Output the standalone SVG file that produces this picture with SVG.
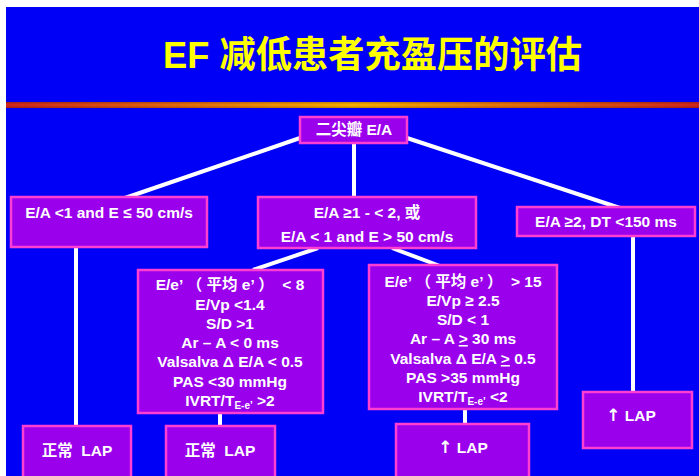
<svg xmlns="http://www.w3.org/2000/svg" width="699" height="476" viewBox="0 0 699 476">
<defs>
<linearGradient id="stripe" x1="0" y1="0" x2="1" y2="0">
<stop offset="0" stop-color="#D8261C"/>
<stop offset="0.5" stop-color="#FFB400"/>
<stop offset="1" stop-color="#D8261C"/>
</linearGradient>
<linearGradient id="stripeV" x1="0" y1="0" x2="0" y2="1">
<stop offset="0" stop-color="#000000" stop-opacity="0.25"/>
<stop offset="0.5" stop-color="#000000" stop-opacity="0"/>
<stop offset="1" stop-color="#000000" stop-opacity="0.25"/>
</linearGradient>
</defs>
<style>
.box{fill:#9A00EC;stroke:#FF3FD2;stroke-width:2.5}
.t{fill:#FFFFFF;font-family:"Liberation Sans","Noto Sans CJK SC",Arial,sans-serif;font-weight:bold;font-size:15.5px;text-anchor:middle}
.title{fill:#FFFF00;font-family:"Liberation Sans","Noto Sans CJK SC",sans-serif;font-weight:bold;font-size:37px}
.c{stroke:#FFFFFF;stroke-width:4;fill:none}
.sub{font-size:10px}
.arr{font-family:"DejaVu Sans",sans-serif;font-size:17px}
</style>
<rect x="0" y="0" width="699" height="476" fill="#FFFFFF"/>
<rect x="6" y="7" width="693" height="469" fill="#0000F6"/>
<rect x="6" y="102" width="693" height="6" fill="url(#stripe)"/>
<rect x="6" y="102" width="693" height="6" fill="url(#stripeV)"/>
<text class="title" x="163" y="68" textLength="419" lengthAdjust="spacingAndGlyphs">EF 减低患者充盈压的评估</text>

<g id="connectors">
<line class="c" x1="300" y1="138" x2="125" y2="198"/>
<line class="c" x1="354" y1="143" x2="354" y2="197"/>
<line class="c" x1="407" y1="138" x2="620" y2="208"/>
<line class="c" x1="76" y1="247" x2="76" y2="426"/>
<line class="c" x1="318" y1="248" x2="253" y2="270"/>
<line class="c" x1="392" y1="248" x2="440" y2="266"/>
<line class="c" x1="220" y1="413" x2="220" y2="426"/>
<line class="c" x1="465" y1="409" x2="465" y2="424"/>
<line class="c" x1="633" y1="236" x2="633" y2="393"/>
</g>

<g id="root">
<rect class="box" x="300" y="117" width="107" height="26"/>
<text class="t" x="354" y="135" font-size="14">二尖瓣 E/A</text>
</g>

<g id="left">
<rect class="box" x="11" y="197" width="196" height="50"/>
<text class="t" x="109" y="218">E/A &lt;1 and E ≤ 50 cm/s</text>
</g>

<g id="middle">
<rect class="box" x="258" y="197" width="218" height="51"/>
<text class="t" x="367" y="218">E/A ≥1 - &lt; 2, 或</text>
<text class="t" x="367" y="242">E/A &lt; 1 and E &gt; 50 cm/s</text>
</g>

<g id="right">
<rect class="box" x="517" y="207" width="178" height="29"/>
<text class="t" x="606" y="227">E/A ≥2, DT &lt;150 ms</text>
</g>

<g id="detail-left">
<rect class="box" x="138" y="270" width="185" height="143"/>
<text class="t" x="230" y="290" xml:space="preserve">E/e’ （ 平均 e’ ）  &lt; 8</text>
<text class="t" x="230" y="310">E/Vp &lt;1.4</text>
<text class="t" x="230" y="329">S/D &gt;1</text>
<text class="t" x="230" y="348">Ar – A &lt; 0 ms</text>
<text class="t" x="230" y="367">Valsalva Δ E/A &lt; 0.5</text>
<text class="t" x="230" y="387">PAS &lt;30 mmHg</text>
<text class="t" x="230" y="406">IVRT/T<tspan class="sub" dy="3">E-e’</tspan><tspan dy="-3"> &gt;2</tspan></text>
</g>

<g id="detail-right">
<rect class="box" x="369" y="265" width="188" height="144"/>
<text class="t" x="463" y="287" xml:space="preserve">E/e’ （ 平均 e’ ）  &gt; 15</text>
<text class="t" x="463" y="306">E/Vp ≥ 2.5</text>
<text class="t" x="463" y="325">S/D &lt; 1</text>
<text class="t" x="463" y="344">Ar – A <tspan text-decoration="underline">&gt;</tspan> 30 ms</text>
<text class="t" x="463" y="364">Valsalva Δ E/A <tspan text-decoration="underline">&gt;</tspan> 0.5</text>
<text class="t" x="463" y="383">PAS &gt;35 mmHg</text>
<text class="t" x="463" y="402">IVRT/T<tspan class="sub" dy="3">E-e’</tspan><tspan dy="-3"> &lt;2</tspan></text>
</g>

<g id="out1">
<rect class="box" x="23" y="426" width="108" height="52"/>
<text class="t" x="77" y="456" xml:space="preserve">正常  LAP</text>
</g>
<g id="out2">
<rect class="box" x="166" y="426" width="109" height="52"/>
<text class="t" x="220" y="456" xml:space="preserve">正常  LAP</text>
</g>
<g id="out3">
<rect class="box" x="396" y="424" width="133" height="54"/>
<text class="t" x="463" y="453"><tspan class="arr">↑</tspan> LAP</text>
</g>
<g id="out4">
<rect class="box" x="583" y="392" width="109" height="56"/>
<text class="t" x="631" y="421"><tspan class="arr">↑</tspan> LAP</text>
</g>
</svg>
